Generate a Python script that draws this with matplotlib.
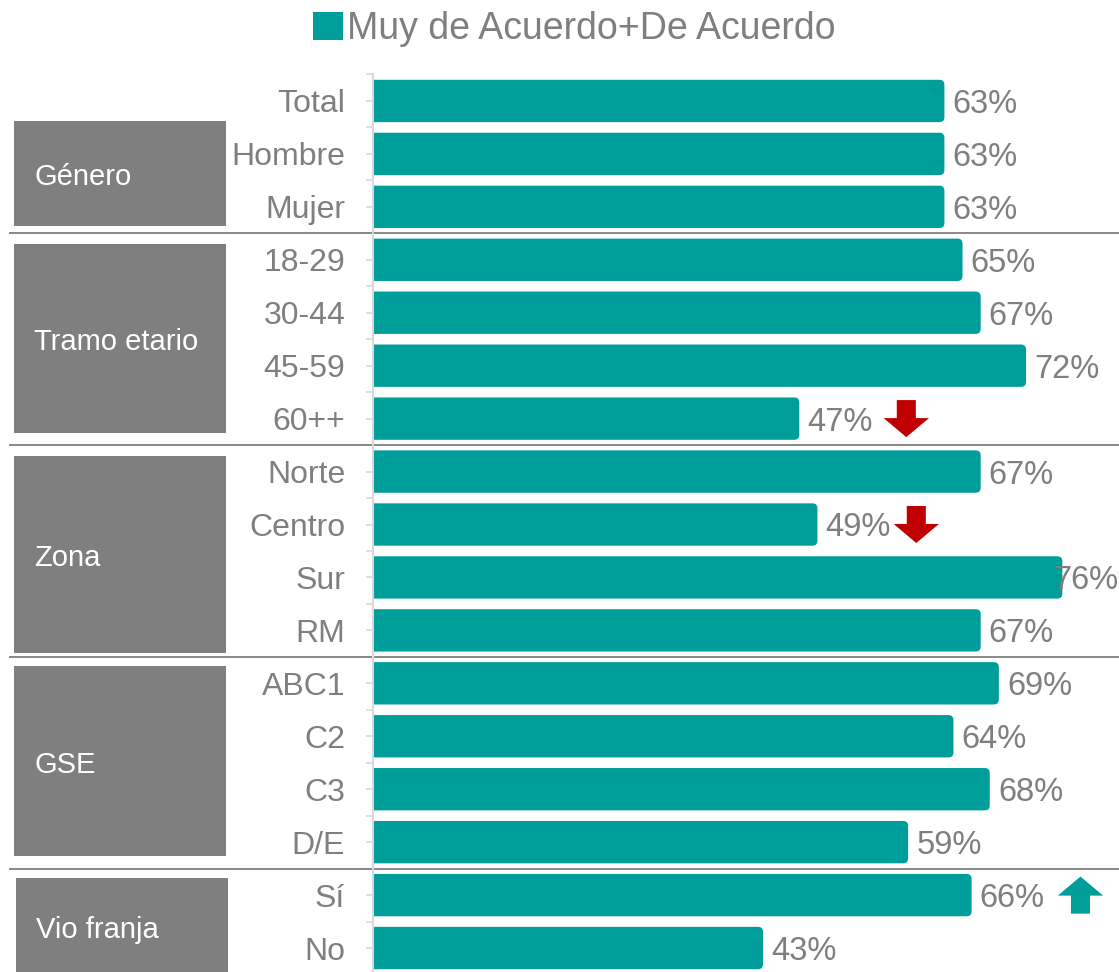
#!/usr/bin/env python3
"""
Horizontal bar chart: Muy de Acuerdo + De Acuerdo by segment
"""

import matplotlib
matplotlib.use('Agg')
import matplotlib.pyplot as plt
import matplotlib.transforms as mtransforms
from matplotlib.patches import FancyBboxPatch, Rectangle, Polygon
import numpy as np

plt.rcParams['font.family'] = ['Liberation Sans', 'DejaVu Sans']

# data
categories = ['Total', 'Hombre', 'Mujer', '18-29', '30-44', '45-59', '60++',
              'Norte', 'Centro', 'Sur', 'RM', 'ABC1', 'C2', 'C3', 'D/E', 'Sí', 'No']
values = [63, 63, 63, 65, 67, 72, 47, 67, 49, 76, 67, 69, 64, 68, 59, 66, 43]
series_name = 'Muy de Acuerdo+De Acuerdo'

group_names = ['Género', 'Tramo etario', 'Zona', 'GSE', 'Vio franja']
group_last = ['Mujer', '60++', 'RM', 'D/E', 'No']

arrow_cats = ['60++', 'Centro', 'Sí']
arrow_dirs = ['down', 'down', 'up']

# styles
TEAL = '#009E9A'
GRAY = '#7F7F7F'
RED = '#C00000'
LIGHT = '#D9D9D9'

W, H = 1119, 972
fig = plt.figure(figsize=(W / 100, H / 100), dpi=100)

ax_left, ax_right = 373, 1119
ax_top, ax_bot = 74.5, 974.5
ax = fig.add_axes([ax_left / W, 1 - ax_bot / H, (ax_right - ax_left) / W, (ax_bot - ax_top) / H])

px_per_unit = 9.07
xmax = (ax_right - ax_left) / px_per_unit
px_per_row = (ax_bot - ax_top) / len(categories)
text_dy = 3.5 / px_per_row  # nudge text down so it sits centred on the bar

y = np.arange(len(categories))
bars = ax.barh(y, values, height=0.8, color=TEAL, label=series_name)

# rounded right ends
for b in bars:
    b.set_visible(False)
    r = FancyBboxPatch((b.get_x() - 1, b.get_y()), b.get_width() + 1, b.get_height(),
                       boxstyle='round,pad=0,rounding_size=0.55',
                       mutation_aspect=(5 / px_per_row) / 0.55,
                       facecolor=TEAL, edgecolor='none')
    ax.add_patch(r)

ax.set_xlim(0, xmax)
ax.set_ylim(len(categories) - 0.5, -0.5)

# value labels
for yi, v in zip(y, values):
    txt = f'{v}%'
    if v + 0.9 + 7.2 > xmax:
        ax.text(xmax - 0.1, yi + text_dy, txt, ha='right', va='center', fontsize=23.5, color=GRAY)
    else:
        ax.text(v + 0.9, yi + text_dy, txt, ha='left', va='center', fontsize=23.5, color=GRAY)

# axis styling
for s in ['top', 'right', 'bottom']:
    ax.spines[s].set_visible(False)
ax.spines['left'].set_color(LIGHT)
ax.spines['left'].set_linewidth(1.5)
ax.set_xticks([])
ax.set_yticks(y)
ax.set_yticklabels(categories, fontsize=23, color=GRAY)
ax.set_yticks(np.arange(-0.5, len(categories), 1), minor=True)
ax.tick_params(axis='y', which='major', length=5, color=LIGHT, width=1.2, pad=15)
ax.tick_params(axis='y', which='minor', length=5, color=LIGHT, width=1.2)

# group boxes and separators
trans = mtransforms.blended_transform_factory(fig.transFigure, ax.transData)
box_tops = [0.38, 2.70, 6.71, 10.68, 14.67]
box_bots = [2.36, 6.28, 10.42, 14.27, 16.50]
for i, name in enumerate(group_names):
    top, bot = box_tops[i], box_bots[i]
    x0 = 14 / W if i < 4 else 16 / W
    rect = Rectangle((x0, top), 212 / W, bot - top, transform=trans,
                     facecolor=GRAY, edgecolor='none', clip_on=False)
    ax.add_patch(rect)
    ax.text(x0 + 20 / W, (top + bot) / 2 + text_dy, name, transform=trans, ha='left',
            va='center', fontsize=21, color='white', clip_on=False)

for last in group_last[:-1]:
    yb = categories.index(last) + 0.5
    ax.plot([10 / W, 1], [yb, yb], transform=trans, color=GRAY, lw=1.3, clip_on=False)

# significance arrows
arrow_gap = [11.8, 10.9, 12.0]

def arrow_poly(cx, cy, direction):
    hw = 2.5   # half head width (x units)
    sw = 1.05  # half shaft width
    hh = 0.35  # half total height (rows)
    hl = 0.36  # head length
    s = 1 if direction == 'down' else -1
    tail = cy - s * hh
    tip = cy + s * hh
    neck = tip - s * hl
    return [(cx - sw, tail), (cx + sw, tail), (cx + sw, neck), (cx + hw, neck),
            (cx, tip), (cx - hw, neck), (cx - sw, neck)]

for cat, d, gap in zip(arrow_cats, arrow_dirs, arrow_gap):
    i = categories.index(cat)
    col = RED if d == 'down' else TEAL
    ax.add_patch(Polygon(arrow_poly(values[i] + gap, i, d), closed=True,
                         facecolor=col, edgecolor='none', clip_on=False))

# legend
leg = fig.legend(handles=[Rectangle((0, 0), 1, 1, facecolor=TEAL)], labels=[series_name],
                 loc='center', bbox_to_anchor=(0.513, 1 - 29 / H), frameon=False,
                 fontsize=27, handlelength=0.8, handleheight=0.8, handletextpad=0.1,
                 borderpad=0, labelcolor=GRAY)

fig.savefig('out.png', dpi=100)
